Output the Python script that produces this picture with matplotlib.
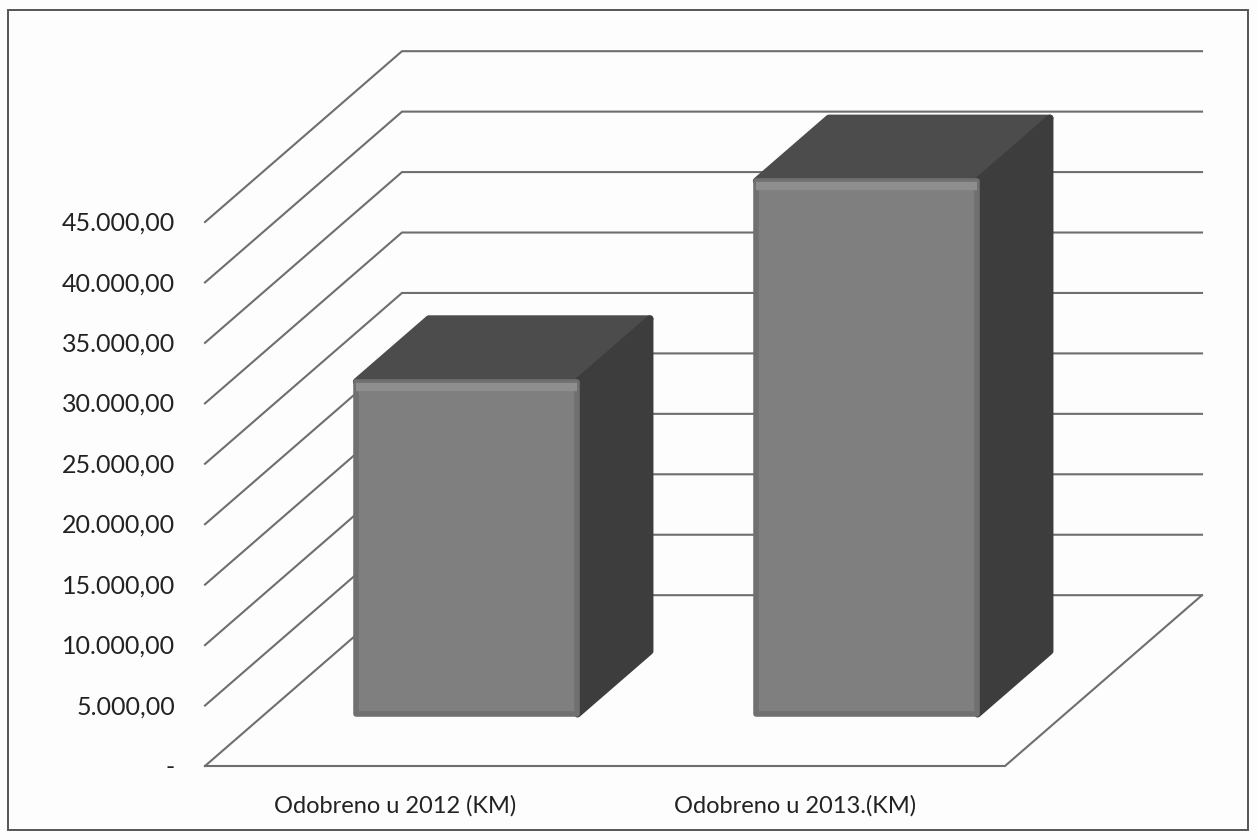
import matplotlib
matplotlib.use("Agg")
import matplotlib.pyplot as plt
from matplotlib.patches import Polygon, Rectangle

categories = ["Odobreno u 2012 (KM)", "Odobreno u 2013.(KM)"]
values = [27500, 44100]
ticks = [0, 5000, 10000, 15000, 20000, 25000, 30000, 35000, 40000, 45000]
tick_labels = ["-", "5.000,00", "10.000,00", "15.000,00", "20.000,00",
               "25.000,00", "30.000,00", "35.000,00", "40.000,00", "45.000,00"]

W, H = 1258, 840
# oblique projection of the excel 3d chart, depth 0..1 shifts x and y
DX = 0.4925
DY = 14130
BAR_W = 0.553
BAR_SHIFT = 0.005
D0, D1 = 0.304, 0.672


def proj(x, v, d):
    return (x + d * DX, v + d * DY)


plt.rcParams['font.family'] = ['Lato', 'DejaVu Sans']
fig = plt.figure(figsize=(W / 100, H / 100), dpi=100, facecolor="#fdfdfd")

# page frame from the scan
frame = fig.add_axes([0, 0, 1, 1])
frame.set_xlim(0, W)
frame.set_ylim(H, 0)
frame.axis("off")
frame.add_patch(Rectangle((8, 10), 1240, 820, fill=False, ec="#555555", lw=1.4))

ax = fig.add_axes([205 / W, (H - 766) / H, 800 / W, 544 / H])
ax.set_xlim(0, 2)
ax.set_ylim(0, 45000)
ax.axis("off")

line_col = "#6e6e6e"
for t, lab in zip(ticks, tick_labels):
    x0, y0 = proj(0, t, 0)
    x1, y1 = proj(0, t, 1)
    x2, y2 = proj(2, t, 1)
    ax.plot([x0, x1, x2], [y0, y1, y2], color=line_col, lw=1.5, clip_on=False,
            solid_joinstyle="miter", zorder=1)
    ax.text(-0.075, t - 100, lab, ha="right", va="center", fontsize=18, color="#222222",
            clip_on=False)

# floor front and right edges
fl = [proj(0, 0, 0), proj(2, 0, 0), proj(2, 0, 1)]
ax.plot([p[0] for p in fl], [p[1] for p in fl], color=line_col, lw=1.5, clip_on=False, zorder=1)

for i, (val, name) in enumerate(zip(values, categories)):
    xl = i + 0.5 + BAR_SHIFT - BAR_W / 2
    xr = i + 0.5 + BAR_SHIFT + BAR_W / 2
    top = [proj(xl, val, D0), proj(xr, val, D0), proj(xr, val, D1), proj(xl, val, D1)]
    side = [proj(xr, 0, D0), proj(xr, 0, D1), proj(xr, val, D1), proj(xr, val, D0)]
    front = [proj(xl, 0, D0), proj(xr, 0, D0), proj(xr, val, D0), proj(xl, val, D0)]
    ax.add_patch(Polygon(top, fc="#4c4c4c", ec="#4c4c4c", lw=5, joinstyle="round",
                         clip_on=False, zorder=3))
    ax.add_patch(Polygon(side, fc="#3d3d3d", ec="#3d3d3d", lw=5, joinstyle="round",
                         clip_on=False, zorder=3))
    ax.add_patch(Polygon(front, fc="#7f7f7f", ec="#707070", lw=4, joinstyle="round",
                         clip_on=False, zorder=4))
    # lighter bevel along the top of the front face
    xb, yb = proj(xl, val - 450, D0)
    xe, ye = proj(xr, val - 450, D0)
    ax.plot([xb, xe], [yb, ye], color="#8e8e8e", lw=6, clip_on=False, zorder=5,
            solid_capstyle="butt")
    ax.text(i + 0.475, -3300, name, ha="center", va="center", fontsize=17, color="#222222",
            clip_on=False)

fig.savefig("out.png", dpi=100, facecolor=fig.get_facecolor())
